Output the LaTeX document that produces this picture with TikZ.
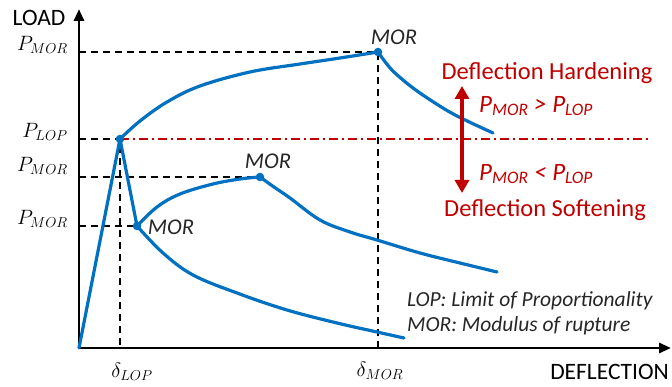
\documentclass[tikz,border=0pt]{standalone}
\usepackage{fontspec}
\setmainfont{Carlito}
\usetikzlibrary{arrows.meta}
\definecolor{cblue}{HTML}{0070C0}
\definecolor{cred}{HTML}{C00000}
\begin{document}
\begin{tikzpicture}[x=1pt,y=-1pt,
  axis/.style={line width=2.8pt,-{Triangle[length=12pt,width=10pt]}},
  guide/.style={line width=1.7pt,dash pattern=on 7pt off 5pt},
  redguide/.style={line width=1.7pt,cred,dash pattern=on 9pt off 4pt on 2pt off 4pt},
  curve/.style={line width=3.2pt,cblue,line cap=round,line join=round},
  dot/.style={circle,fill=cblue,inner sep=0pt,minimum size=8.5pt},
  axlabel/.style={font=\fontsize{23.5}{26}\selectfont},
  vlabel/.style={font=\fontsize{22}{24}\selectfont,anchor=east,inner sep=0pt},
  morlabel/.style={font=\fontsize{22.5}{24}\selectfont\itshape,text=black!85},
  redtext/.style={font=\fontsize{24.5}{26}\selectfont,text=cred},
  redmath/.style={font=\fontsize{25}{26}\selectfont,text=cred},
  legend/.style={font=\fontsize{21.5}{24}\selectfont\itshape,text=black!85,anchor=west,inner sep=0pt}
]
\useasboundingbox (0,0) rectangle (672,387);

% key coordinates
\coordinate (O) at (79,348);
\coordinate (ytop) at (79,9);
\coordinate (xend) at (671,348);
\coordinate (yMtop) at (79,52);
\coordinate (yLOP) at (79,139);
\coordinate (yMmid) at (79,177);
\coordinate (yMlow) at (79,226);
\coordinate (xLOP) at (120,348);
\coordinate (xMOR) at (378,348);
\coordinate (redend) at (648,139);

% guide lines
\draw[guide] (yMtop) -- (378,52) -- (xMOR);
\draw[guide] (yLOP) -- (120,139) -- (xLOP);
\draw[guide] (yMmid) -- (260,177);
\draw[guide] (yMlow) -- (137,226);
\draw[redguide] (120,139) -- (redend);

% axes
\draw[axis] (O) -- (ytop);
\draw[axis] (O) -- (xend);

% curves
\draw[curve] (O) -- (120,139) -- (137,226);
\draw[curve] plot[smooth,tension=0.6] coordinates {(120,139) (140,121) (167,102) (200,86) (250,72) (300,64) (340,58) (378,52)};
\draw[curve] plot[smooth,tension=0.6] coordinates {(378,52) (386,63) (395,73) (413,88) (435,103) (457,116) (493,133)};
\draw[curve] plot[smooth,tension=0.6] coordinates {(137,226) (157,207) (180,194) (213,184) (240,179) (260,177)};
\draw[curve] plot[smooth,tension=0.6] coordinates {(260,177) (274,187) (290,198) (320,220) (350,232) (377,240) (420,253) (460,263) (497,272)};
\draw[curve] plot[smooth,tension=0.6] coordinates {(137,226) (163,253) (193,275) (237,293) (287,310) (337,323) (377,332) (404,338)};

% points
\node[dot] (LOP) at (120,139) {};
\node[dot] (M1) at (378,52) {};
\node[dot] (M2) at (260,177) {};
\node[dot] (M3) at (137,226) {};

% MOR labels
\node[morlabel] (l1) at (394,37) {MOR};
\node[morlabel] (l2) at (268,161) {MOR};
\node[morlabel] (l3) at (171,227) {MOR};

% axis labels
\node[axlabel,inner sep=0pt] (load) at (39,18) {LOAD};
\node[axlabel,anchor=east,inner sep=0pt] (defl) at (669,372) {DEFLECTION};

% value labels
\node[vlabel] (pm1) at (68,45) {$P_{MOR}$};
\node[vlabel] (plop) at (68,132) {$P_{LOP}$};
\node[vlabel] (pm2) at (68,166) {$P_{MOR}$};
\node[vlabel] (pm3) at (68,219) {$P_{MOR}$};
\node[font=\fontsize{22}{24}\selectfont,inner sep=0pt] (dlop) at (132,372) {$\delta_{LOP}$};
\node[font=\fontsize{22}{24}\selectfont,inner sep=0pt] (dmor) at (380,371) {$\delta_{MOR}$};

% red annotation
\coordinate (aT) at (462,86);
\coordinate (aB) at (462,193);
\draw[cred,line width=3.4pt,{Triangle[length=13pt,width=14pt]}-{Triangle[length=13pt,width=14pt]}] (aT) -- (aB);
\node[redtext] (hard) at (547,73) {Deflection Hardening};
\node[redtext] (soft) at (545,210) {Deflection Softening};
\node[redmath,anchor=west,inner sep=0pt] (gt) at (479,106) {\itshape P\textsubscript{MOR} > P\textsubscript{LOP}};
\node[redmath,anchor=west,inner sep=0pt] (lt) at (479,174) {\itshape P\textsubscript{MOR} < P\textsubscript{LOP}};

% legend
\node[legend] (leg1) at (407,301) {LOP: Limit of Proportionality};
\node[legend] (leg2) at (407,326) {MOR: Modulus of rupture};
\end{tikzpicture}
\end{document}
